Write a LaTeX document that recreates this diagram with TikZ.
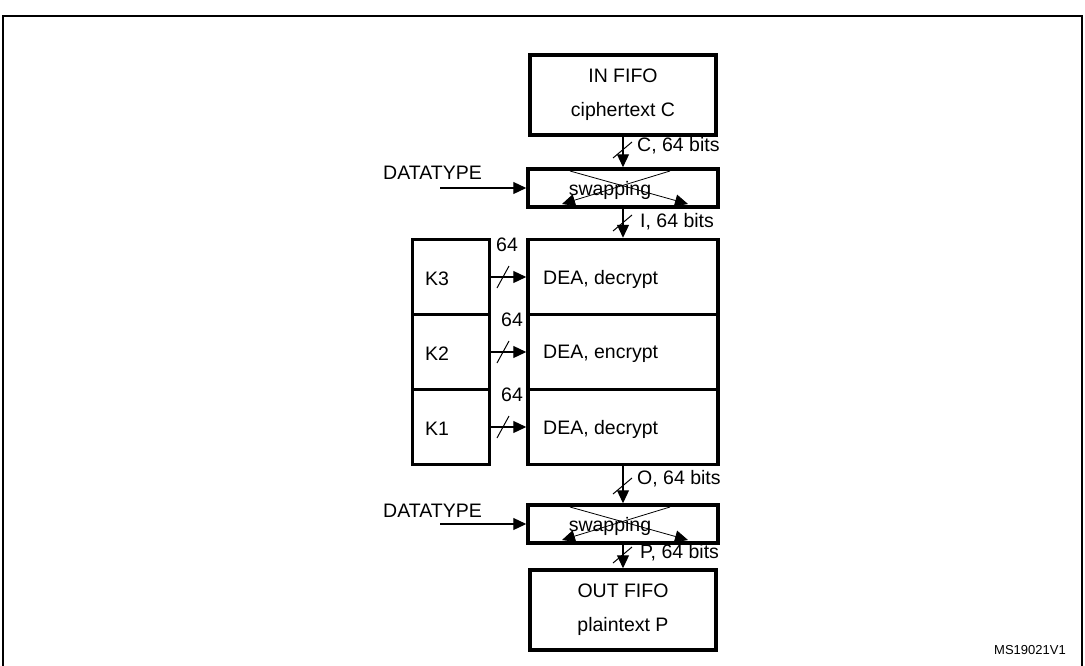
\documentclass[tikz,border=0pt]{standalone}
\usepackage{fontspec}
\setmainfont{Liberation Sans}
\usetikzlibrary{arrows.meta}
\begin{document}
\begin{tikzpicture}[x=1pt,y=-1pt,
  box/.style={draw,line width=3.5pt,inner sep=0pt},
  lbl/.style={font=\fontsize{19.5}{23}\selectfont,inner sep=0pt},
  arr/.style={line width=1.2pt,-{Triangle[length=13pt,width=12pt]}},
  sl/.style={line width=1pt}]
\useasboundingbox (0,0) rectangle (1085,665);
\draw[line width=2pt] (3,680) -- (3,16) -- (1082,16) -- (1082,680);
% IN FIFO
\node[box,minimum width=186pt,minimum height=80pt] (in) at (623,95) {};
\node[lbl] (int1) at (623,76) {IN FIFO};
\node[lbl] (int2) at (623,111) {ciphertext C};
% swapping 1
\node[box,minimum width=190pt,minimum height=38pt] (sw1) at (623,188) {};
\node[lbl] (sw1t) at (610,190) {swapping};
\coordinate (s1a) at (570,171); \coordinate (s1b) at (688,204);
\coordinate (s1c) at (670,171); \coordinate (s1d) at (562,204);
\draw[arr,line width=0.8pt] (s1a) -- (s1b);
\draw[arr,line width=0.8pt] (s1c) -- (s1d);
\node[lbl,anchor=west] (dt1) at (383,173) {DATATYPE};
\coordinate (dt1s) at (440,188);
\draw[arr] (dt1s) -- (sw1.west);
\draw[arr] (in.south) -- (sw1.north);
\draw[sl] (613,158) -- (632,142);
\node[lbl,anchor=west] (c64) at (637,146) {C, 64 bits};
% DEA
\node[box,minimum width=190pt,minimum height=75pt] (d3) at (623,277) {};
\node[box,minimum width=190pt,minimum height=75pt] (d2) at (623,352) {};
\node[box,minimum width=190pt,minimum height=75pt] (d1) at (623,427) {};
\node[lbl,anchor=west] at (543,279) {DEA, decrypt};
\node[lbl,anchor=west] at (543,354) {DEA, encrypt};
\node[lbl,anchor=west] at (543,429) {DEA, decrypt};
\draw[arr] (sw1.south) -- (d3.north);
\draw[sl] (613,231) -- (632,215);
\node[lbl,anchor=west] (i64) at (640,222) {I, 64 bits};
% keys
\node[box,minimum width=77pt,minimum height=75pt] (k3) at (451,277) {};
\node[box,minimum width=77pt,minimum height=75pt] (k2) at (451,352) {};
\node[box,minimum width=77pt,minimum height=75pt] (k1) at (451,427) {};
\node[lbl,anchor=west] at (425,279) {K3};
\node[lbl,anchor=west] at (425,354) {K2};
\node[lbl,anchor=west] at (425,429) {K1};
\foreach \k/\d/\y in {k3/d3/277,k2/d2/352,k1/d1/427}{
  \draw[arr] (\k.east) -- (\d.west);
  \draw[sl] (497,\y+11) -- (509,\y-11);
}
\node[lbl] at (507,245) {64};
\node[lbl] at (512,320) {64};
\node[lbl] at (512,395) {64};
% swapping 2
\node[box,minimum width=190pt,minimum height=38pt] (sw2) at (623,524) {};
\node[lbl] (sw2t) at (610,526) {swapping};
\coordinate (s2a) at (570,507); \coordinate (s2b) at (688,540);
\coordinate (s2c) at (670,507); \coordinate (s2d) at (562,540);
\draw[arr,line width=0.8pt] (s2a) -- (s2b);
\draw[arr,line width=0.8pt] (s2c) -- (s2d);
\node[lbl,anchor=west] (dt2) at (383,511) {DATATYPE};
\coordinate (dt2s) at (440,524);
\draw[arr] (dt2s) -- (sw2.west);
\draw[arr] (d1.south) -- (sw2.north);
\draw[sl] (613,494) -- (632,478);
\node[lbl,anchor=west] (o64) at (637,479) {O, 64 bits};
% OUT FIFO
\node[box,minimum width=186pt,minimum height=80pt] (out) at (623,610) {};
\node[lbl] at (623,591) {OUT FIFO};
\node[lbl] at (623,626) {plaintext P};
\draw[arr] (sw2.south) -- (out.north);
\draw[sl] (613,563) -- (632,547);
\node[lbl,anchor=west] (p64) at (640,553) {P, 64 bits};
\node[inner sep=0pt,font=\fontsize{13}{15}\selectfont] at (1030,650) {MS19021V1};
\end{tikzpicture}
\end{document}
